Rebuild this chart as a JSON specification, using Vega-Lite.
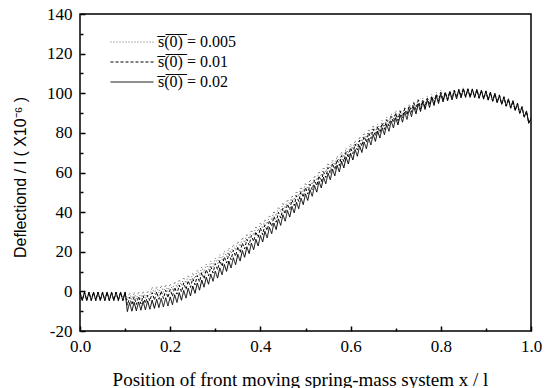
{
"$schema": "https://vega.github.io/schema/vega-lite/v6.json",
"width": 451, "height": 317,
"autosize": {"type": "none"},
"padding": {"left": 80, "top": 14, "right": 16, "bottom": 57},
"background": "white",
"config": {"font": "Liberation Serif", "view": {"stroke": "#000", "strokeWidth": 1.5}},
"data": {"values": [
{"x":0,"a":-0.3,"b":-0.5,"c":-0.7},{"x":0.005,"a":-4.7,"b":-4.5,"c":-4.3},
{"x":0.01,"a":-0.3,"b":-0.5,"c":-0.7},{"x":0.015,"a":-4.7,"b":-4.5,"c":-4.3},
{"x":0.02,"a":-0.3,"b":-0.5,"c":-0.7},{"x":0.025,"a":-4.7,"b":-4.5,"c":-4.3},
{"x":0.03,"a":-0.3,"b":-0.5,"c":-0.7},{"x":0.035,"a":-4.7,"b":-4.5,"c":-4.3},
{"x":0.04,"a":-0.3,"b":-0.5,"c":-0.7},{"x":0.045,"a":-4.7,"b":-4.5,"c":-4.3},
{"x":0.05,"a":-0.3,"b":-0.5,"c":-0.7},{"x":0.055,"a":-4.7,"b":-4.5,"c":-4.3},
{"x":0.06,"a":-0.3,"b":-0.5,"c":-0.7},{"x":0.065,"a":-4.7,"b":-4.5,"c":-4.3},
{"x":0.07,"a":-0.3,"b":-0.5,"c":-0.7},{"x":0.075,"a":-4.7,"b":-4.5,"c":-4.3},
{"x":0.08,"a":-0.3,"b":-0.5,"c":-0.7},{"x":0.085,"a":-4.7,"b":-4.5,"c":-4.3},
{"x":0.09,"a":-0.3,"b":-0.5,"c":-0.7},{"x":0.095,"a":-4.7,"b":-4.5,"c":-4.3},
{"x":0.1,"a":-0.3,"b":-0.5,"c":-0.7},
{"x":0.105,"a":-10.2,"b":-7,"c":-4.3},{"x":0.11,"a":-5.7,"b":-2.9,"c":-0.6},
{"x":0.115,"a":-10,"b":-6.8,"c":-4.1},{"x":0.12,"a":-5.5,"b":-2.7,"c":-0.4},
{"x":0.125,"a":-9.8,"b":-6.6,"c":-3.9},{"x":0.13,"a":-5.3,"b":-2.5,"c":-0.2},
{"x":0.135,"a":-9.5,"b":-6.3,"c":-3.6},{"x":0.14,"a":-5,"b":-2.2,"c":0.1},
{"x":0.145,"a":-9.3,"b":-6.1,"c":-3.4},{"x":0.15,"a":-4.8,"b":-2,"c":0.3},
{"x":0.155,"a":-9,"b":-4.8,"c":-1.6},{"x":0.16,"a":-4.4,"b":-0.6,"c":2.2},
{"x":0.165,"a":-8.6,"b":-4.4,"c":-1.2},{"x":0.17,"a":-4,"b":-0.2,"c":2.6},
{"x":0.175,"a":-8.2,"b":-4,"c":-0.8},{"x":0.18,"a":-3.6,"b":0.2,"c":3},
{"x":0.185,"a":-7.8,"b":-3.6,"c":-0.4},{"x":0.19,"a":-3.2,"b":0.6,"c":3.4},
{"x":0.195,"a":-7.4,"b":-3.2,"c":0},{"x":0.2,"a":-2.8,"b":1,"c":3.8},
{"x":0.205,"a":-6.7,"b":-2.5,"c":0.8},{"x":0.21,"a":-1.7,"b":2.1,"c":4.9},
{"x":0.215,"a":-5.6,"b":-1.4,"c":1.9},{"x":0.22,"a":-0.6,"b":3.2,"c":6},
{"x":0.225,"a":-4.5,"b":-0.3,"c":3},{"x":0.23,"a":0.5,"b":4.3,"c":7.1},
{"x":0.235,"a":-3.4,"b":0.9,"c":4.1},{"x":0.24,"a":1.6,"b":5.4,"c":8.2},
{"x":0.245,"a":-2.3,"b":2,"c":5.2},{"x":0.25,"a":2.7,"b":6.5,"c":9.3},
{"x":0.255,"a":-1,"b":3.3,"c":6.5},{"x":0.26,"a":4.2,"b":8,"c":10.8},
{"x":0.265,"a":0.6,"b":4.8,"c":8},{"x":0.27,"a":5.7,"b":9.5,"c":12.3},
{"x":0.275,"a":2.1,"b":6.3,"c":9.5},{"x":0.28,"a":7.2,"b":11,"c":13.8},
{"x":0.285,"a":3.6,"b":7.8,"c":11},{"x":0.29,"a":8.7,"b":12.5,"c":15.3},
{"x":0.295,"a":5.1,"b":9.3,"c":12.5},{"x":0.3,"a":10.2,"b":14,"c":16.8},
{"x":0.305,"a":6.7,"b":10.9,"c":14.1},{"x":0.31,"a":11.9,"b":15.7,"c":18.5},
{"x":0.315,"a":8.4,"b":12.6,"c":15.8},{"x":0.32,"a":13.6,"b":17.4,"c":20.2},
{"x":0.325,"a":10.1,"b":14.3,"c":17.5},{"x":0.33,"a":15.3,"b":19.1,"c":21.9},
{"x":0.335,"a":11.8,"b":16,"c":19.2},{"x":0.34,"a":17,"b":20.8,"c":23.6},
{"x":0.345,"a":13.5,"b":17.7,"c":20.9},{"x":0.35,"a":18.7,"b":22.5,"c":25.3},
{"x":0.355,"a":15.3,"b":19.5,"c":22.7},{"x":0.36,"a":20.6,"b":24.4,"c":27.2},
{"x":0.365,"a":17.2,"b":21.4,"c":24.6},{"x":0.37,"a":22.5,"b":26.3,"c":29.1},
{"x":0.375,"a":19.1,"b":23.3,"c":26.5},{"x":0.38,"a":24.4,"b":28.2,"c":31},
{"x":0.385,"a":21,"b":25.2,"c":28.4},{"x":0.39,"a":26.3,"b":30.1,"c":32.9},
{"x":0.395,"a":22.9,"b":27.1,"c":30.3},{"x":0.4,"a":28.2,"b":32,"c":34.8},
{"x":0.405,"a":24.9,"b":28.6,"c":31.8},{"x":0.41,"a":30.3,"b":33.6,"c":36.4},
{"x":0.415,"a":27,"b":30.7,"c":33.9},{"x":0.42,"a":32.4,"b":35.7,"c":38.5},
{"x":0.425,"a":29.1,"b":32.8,"c":36},{"x":0.43,"a":34.5,"b":37.8,"c":40.6},
{"x":0.435,"a":31.2,"b":34.9,"c":38.1},{"x":0.44,"a":36.6,"b":39.9,"c":42.7},
{"x":0.445,"a":33.3,"b":37,"c":40.2},{"x":0.45,"a":38.7,"b":42,"c":44.8},
{"x":0.455,"a":35.4,"b":39.1,"c":41.8},{"x":0.46,"a":40.8,"b":44.1,"c":46.4},
{"x":0.465,"a":37.5,"b":41.2,"c":43.9},{"x":0.47,"a":42.9,"b":46.2,"c":48.5},
{"x":0.475,"a":39.6,"b":43.3,"c":46},{"x":0.48,"a":45,"b":48.3,"c":50.6},
{"x":0.485,"a":41.7,"b":45.4,"c":48.1},{"x":0.49,"a":47.1,"b":50.4,"c":52.7},
{"x":0.495,"a":43.8,"b":47.5,"c":50.2},{"x":0.5,"a":49.2,"b":52.5,"c":54.8},
{"x":0.505,"a":45.9,"b":49.1,"c":51.8},{"x":0.51,"a":51.3,"b":54.1,"c":56.4},
{"x":0.515,"a":48,"b":51.2,"c":53.9},{"x":0.52,"a":53.4,"b":56.2,"c":58.5},
{"x":0.525,"a":50.1,"b":53.3,"c":56},{"x":0.53,"a":55.5,"b":58.3,"c":60.6},
{"x":0.535,"a":52.2,"b":55.4,"c":58.1},{"x":0.54,"a":57.6,"b":60.4,"c":62.7},
{"x":0.545,"a":54.3,"b":57.5,"c":60.2},{"x":0.55,"a":59.7,"b":62.5,"c":64.8},
{"x":0.555,"a":56.3,"b":59.5,"c":61.7},{"x":0.56,"a":61.7,"b":64.5,"c":66.3},
{"x":0.565,"a":58.3,"b":61.5,"c":63.7},{"x":0.57,"a":63.7,"b":66.5,"c":68.3},
{"x":0.575,"a":60.3,"b":63.5,"c":65.7},{"x":0.58,"a":65.7,"b":68.5,"c":70.3},
{"x":0.585,"a":62.3,"b":65.5,"c":67.7},{"x":0.59,"a":67.7,"b":70.5,"c":72.3},
{"x":0.595,"a":64.3,"b":67.5,"c":69.7},{"x":0.6,"a":69.7,"b":72.5,"c":74.3},
{"x":0.605,"a":66.3,"b":69.5,"c":71.7},{"x":0.61,"a":71.6,"b":74.4,"c":76.2},
{"x":0.615,"a":68.2,"b":71.4,"c":73.6},{"x":0.62,"a":73.5,"b":76.3,"c":78.1},
{"x":0.625,"a":70.1,"b":73.3,"c":75.5},{"x":0.63,"a":75.4,"b":78.2,"c":80},
{"x":0.635,"a":72,"b":75.2,"c":77.4},{"x":0.64,"a":77.3,"b":80.1,"c":81.9},
{"x":0.645,"a":73.9,"b":77.1,"c":79.3},{"x":0.65,"a":79.2,"b":82,"c":83.8},
{"x":0.655,"a":75.7,"b":78.4,"c":80.1},{"x":0.66,"a":80.9,"b":83.2,"c":84.5},
{"x":0.665,"a":77.4,"b":80.1,"c":81.8},{"x":0.67,"a":82.6,"b":84.9,"c":86.2},
{"x":0.675,"a":79.1,"b":81.8,"c":83.5},{"x":0.68,"a":84.3,"b":86.6,"c":87.9},
{"x":0.685,"a":80.8,"b":83.5,"c":85.2},{"x":0.69,"a":86,"b":88.3,"c":89.6},
{"x":0.695,"a":82.5,"b":85.2,"c":86.9},{"x":0.7,"a":87.7,"b":90,"c":91.3},
{"x":0.705,"a":84,"b":86.2,"c":87.4},{"x":0.71,"a":89.1,"b":90.9,"c":91.7},
{"x":0.715,"a":85.4,"b":87.6,"c":88.8},{"x":0.72,"a":90.5,"b":92.3,"c":93.1},
{"x":0.725,"a":86.8,"b":89,"c":90.2},{"x":0.73,"a":91.9,"b":93.7,"c":94.5},
{"x":0.735,"a":88.2,"b":90.4,"c":91.6},{"x":0.74,"a":93.3,"b":95.1,"c":95.9},
{"x":0.745,"a":89.6,"b":91.8,"c":93},{"x":0.75,"a":94.7,"b":96.5,"c":97.3},
{"x":0.755,"a":90.8,"b":92,"c":93.2},{"x":0.76,"a":95.7,"b":96.5,"c":97.3},
{"x":0.765,"a":91.8,"b":93,"c":94.2},{"x":0.77,"a":96.7,"b":97.5,"c":98.3},
{"x":0.775,"a":92.8,"b":94,"c":95.2},{"x":0.78,"a":97.7,"b":98.5,"c":99.3},
{"x":0.785,"a":93.8,"b":95,"c":96.2},{"x":0.79,"a":98.7,"b":99.5,"c":100.3},
{"x":0.795,"a":94.8,"b":96,"c":97.2},{"x":0.8,"a":99.7,"b":100.5,"c":101.3},
{"x":0.805,"a":95.6,"b":96.3,"c":97},{"x":0.81,"a":100.2,"b":100.5,"c":100.8},
{"x":0.815,"a":96.1,"b":96.8,"c":97.5},{"x":0.82,"a":100.7,"b":101,"c":101.3},
{"x":0.825,"a":96.6,"b":97.3,"c":98},{"x":0.83,"a":101.2,"b":101.5,"c":101.8},
{"x":0.835,"a":97.1,"b":97.8,"c":98.5},{"x":0.84,"a":101.7,"b":102,"c":102.3},
{"x":0.845,"a":97.6,"b":98.3,"c":99},{"x":0.85,"a":102.2,"b":102.5,"c":102.8},
{"x":0.855,"a":97.9,"b":98.1,"c":98.3},{"x":0.86,"a":102.3,"b":102.1,"c":101.9},
{"x":0.865,"a":97.9,"b":98.1,"c":98.3},{"x":0.87,"a":102.2,"b":102,"c":101.8},
{"x":0.875,"a":97.8,"b":98,"c":98.2},{"x":0.88,"a":102,"b":101.8,"c":101.6},
{"x":0.885,"a":97.4,"b":97.6,"c":97.8},{"x":0.89,"a":101.6,"b":101.4,"c":101.2},
{"x":0.895,"a":97,"b":97.2,"c":97.4},{"x":0.9,"a":101.2,"b":101,"c":100.8},
{"x":0.905,"a":96.5,"b":96.7,"c":96.4},{"x":0.91,"a":100.6,"b":100.4,"c":99.7},
{"x":0.915,"a":95.9,"b":96.1,"c":95.8},{"x":0.92,"a":100,"b":99.8,"c":99.1},
{"x":0.925,"a":95.2,"b":95.4,"c":95.1},{"x":0.93,"a":99.2,"b":99,"c":98.3},
{"x":0.935,"a":94.4,"b":94.6,"c":94.3},{"x":0.94,"a":98.3,"b":98.1,"c":97.4},
{"x":0.945,"a":93.4,"b":93.6,"c":93.3},{"x":0.95,"a":97.2,"b":97,"c":96.3},
{"x":0.955,"a":92.4,"b":92.6,"c":92.3},{"x":0.96,"a":96.3,"b":96.1,"c":95.4},
{"x":0.965,"a":91.3,"b":91.5,"c":91.2},{"x":0.97,"a":95,"b":94.8,"c":94.1},
{"x":0.975,"a":89.8,"b":90,"c":89.7},{"x":0.98,"a":93.3,"b":93.1,"c":92.4},
{"x":0.985,"a":87.9,"b":88.1,"c":87.8},{"x":0.99,"a":91.1,"b":90.9,"c":90.2},
{"x":0.995,"a":84.9,"b":85.1,"c":84.8},{"x":1,"a":87.2,"b":87,"c":86.3}
]},
"transform": [{"fold": ["c", "b", "a"], "as": ["s", "y"]}],
"layer": [
{
"mark": {"type": "line", "strokeWidth": 1},
"encoding": {
"x": {"field": "x", "type": "quantitative", "scale": {"domain": [0, 1], "nice": false},
"axis": {"values": [0, 0.2, 0.4, 0.6, 0.8, 1], "format": ".1f", "tickSize": -5, "tickColor": "#000", "tickWidth": 1.5, "domain": false, "grid": false, "labelFlush": false, "labelPadding": 12, "labelFontSize": 17, "labelColor": "#000", "labelFont": "Liberation Serif",
"title": "Position of front moving spring-mass system   x / l", "titleFont": "Liberation Serif", "titleFontSize": 19, "titleFontWeight": "normal", "titleColor": "#000", "titleX": 220, "titleY": 54, "titleBaseline": "alphabetic", "titleAlign": "center"}},
"y": {"field": "y", "type": "quantitative", "scale": {"domain": [-20, 140], "nice": false},
"axis": {"values": [-20, 0, 20, 40, 60, 80, 100, 120, 140], "labelExpr": "'' + datum.value", "tickSize": -5, "tickColor": "#000", "tickWidth": 1.5, "domain": false, "grid": false, "labelFlush": false, "labelPadding": 13, "labelFontSize": 17, "labelColor": "#000", "labelFont": "Liberation Serif",
"title": "Deflectiond / l ( X10⁻⁶ )", "titleFont": "Liberation Sans", "titleFontSize": 16, "titleFontWeight": "normal", "titleColor": "#000", "titleX": -60, "titleY": 163, "titleAngle": -90, "titleBaseline": "middle", "titleAlign": "center"}},
"color": {"field": "s", "type": "nominal", "scale": {"domain": ["c", "b", "a"], "range": ["#666666", "#000000", "#000000"]},
"legend": {"orient": "none", "legendX": 30, "legendY": 19, "title": null, "symbolType": "stroke", "symbolSize": 1849, "symbolStrokeWidth": 1, "clipHeight": 18, "labelFontSize": 16, "labelFont": "Liberation Serif", "labelColor": "#000", "labelOffset": 4, "rowPadding": 2,
"labelExpr": "datum.value == 'c' ? 's\u0305(\u03050\u0305)\u0305 = 0.005' : datum.value == 'b' ? 's\u0305(\u03050\u0305)\u0305 = 0.01' : 's\u0305(\u03050\u0305)\u0305 = 0.02'"}},
"strokeDash": {"field": "s", "type": "nominal", "scale": {"domain": ["c", "b", "a"], "range": [[1, 2], [3, 2], [1, 0]]},
"legend": {"orient": "none", "legendX": 30, "legendY": 19, "title": null, "symbolType": "stroke", "symbolSize": 1849, "symbolStrokeWidth": 1, "clipHeight": 18, "labelFontSize": 16, "labelFont": "Liberation Serif", "labelColor": "#000", "labelOffset": 4, "rowPadding": 2,
"labelExpr": "datum.value == 'c' ? 's\u0305(\u03050\u0305)\u0305 = 0.005' : datum.value == 'b' ? 's\u0305(\u03050\u0305)\u0305 = 0.01' : 's\u0305(\u03050\u0305)\u0305 = 0.02'"}}
}
},
{
"mark": {"type": "line", "opacity": 0},
"encoding": {
"x": {"field": "x", "type": "quantitative", "scale": {"domain": [0, 1], "nice": false},
"axis": {"orient": "bottom", "values": [0.1, 0.3, 0.5, 0.7, 0.9], "tickSize": -3, "tickColor": "#000", "tickWidth": 1.5, "labels": false, "domain": false, "grid": false, "title": null}},
"y": {"field": "y", "type": "quantitative", "scale": {"domain": [-20, 140], "nice": false},
"axis": {"orient": "left", "values": [-10, 10, 30, 50, 70, 90, 110, 130], "tickSize": -3, "tickColor": "#000", "tickWidth": 1.5, "labels": false, "domain": false, "grid": false, "title": null}},
"detail": {"field": "s", "type": "nominal"}
}
}
],
"resolve": {"axis": {"x": "independent", "y": "independent"}}
}
